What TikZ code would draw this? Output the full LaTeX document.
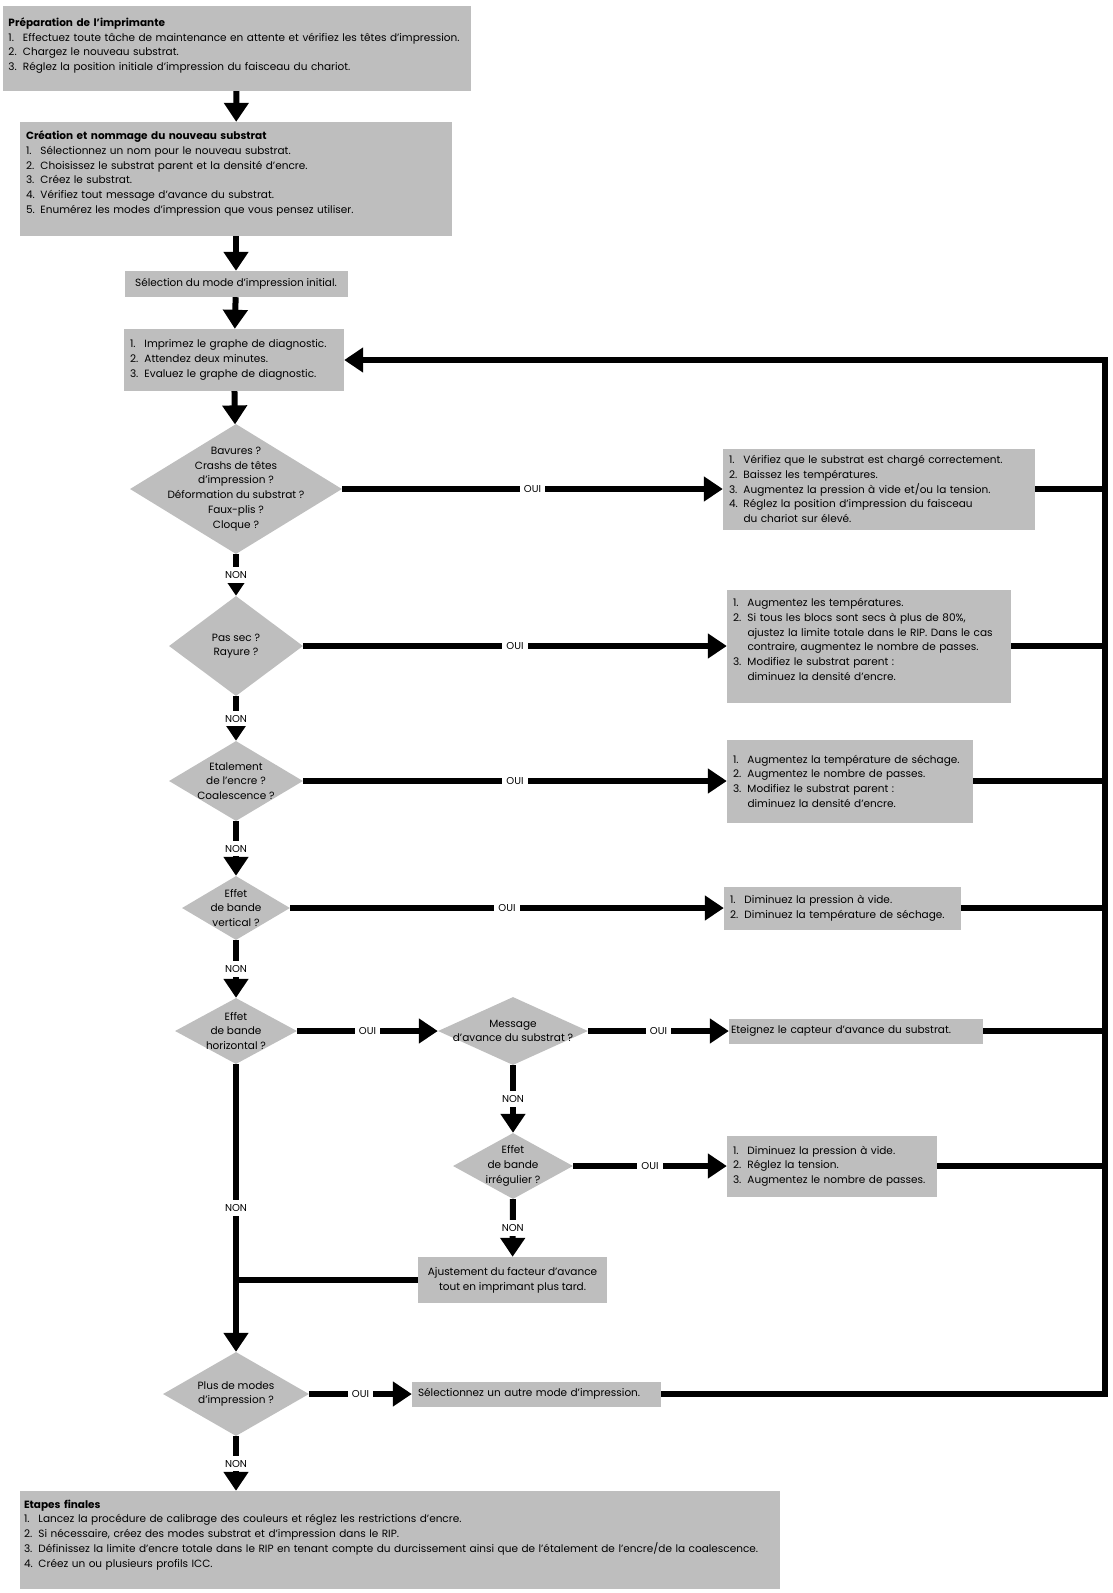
\documentclass[tikz,border=0pt]{standalone}
\usepackage{fontspec}
\setmainfont{Poppins}
\usetikzlibrary{arrows.meta, positioning, shapes.geometric, calc}

\definecolor{boxgray}{RGB}{190,190,190}
\newcommand{\nr}[1]{\makebox[11pt][l]{#1.}}
\newcommand{\ind}{\makebox[11pt]{}\ }

\begin{document}
\begin{tikzpicture}[
    x=1pt, y=-1pt,
    font=\fontsize{10.5}{14.7}\selectfont,
    >={Triangle[length=19pt, width=24pt]},
    stepbox/.style={fill=boxgray, inner xsep=6pt, inner ysep=3pt, align=left},
    decision/.style={diamond, fill=boxgray, inner sep=0pt},
    dtext/.style={align=center},
    flow/.style={line width=6pt, ->},
    link/.style={line width=6pt},
    answer/.style={fill=white, font=\fontsize{10}{11}\selectfont, inner sep=4pt},
  ]
  \useasboundingbox (0,0) rectangle (1112,1593);

  % Preparation
  \node[stepbox, text width=456pt, text depth=53pt, minimum height=85pt] (prep) at (236.5,48.5) {
      \textbf{Préparation de l'imprimante}\\
      \nr1 Effectuez toute tâche de maintenance en attente et vérifiez les têtes d'impression.\\
      \nr2 Chargez le nouveau substrat.\\
      \nr3 Réglez la position initiale d'impression du faisceau du chariot.
  };

  % Creation of the substrate
  \node[stepbox, text width=420pt, text depth=87pt, minimum height=114pt] (create) at (236,179) {
      \textbf{Création et nommage du nouveau substrat}\\
      \nr1 Sélectionnez un nom pour le nouveau substrat.\\
      \nr2 Choisissez le substrat parent et la densité d'encre.\\
      \nr3 Créez le substrat.\\
      \nr4 Vérifiez tout message d'avance du substrat.\\
      \nr5 Enumérez les modes d'impression que vous pensez utiliser.
  };

  \node[stepbox, align=center, minimum width=223pt, minimum height=26pt] (initmode) at (236,284) {Sélection du mode d'impression initial.};

  \node[stepbox, text width=208pt, minimum height=62pt] (diag) at (234,360) {
      \nr1 Imprimez le graphe de diagnostic.\\
      \nr2 Attendez deux minutes.\\
      \nr3 Evaluez le graphe de diagnostic.
  };

  % --- Decisions on the main column ---
  \node[decision, minimum width=212pt, minimum height=130pt,
        label={[dtext]center:{Bavures ?\\Crashs de têtes\\d'impression ?\\Déformation du substrat ?\\Faux-plis ?\\Cloque ?}}] (d1) at (236,489) {};
  \node[decision, minimum width=134pt, minimum height=100pt,
        label={[dtext]center:{Pas sec ?\\Rayure ?}}] (d2) at (236,646) {};
  \node[decision, minimum width=134pt, minimum height=80pt,
        label={[dtext]center:{Etalement\\de l'encre ?\\Coalescence ?}}] (d3) at (236,781) {};
  \node[decision, minimum width=108pt, minimum height=64pt,
        label={[dtext]center:{Effet\\de bande\\vertical ?}}] (d4) at (236,908) {};
  \node[decision, minimum width=122pt, minimum height=66pt,
        label={[dtext]center:{Effet\\de bande\\horizontal ?}}] (d5) at (236,1031) {};
  \node[decision, minimum width=150pt, minimum height=68pt,
        label={[dtext]center:{Message\\d'avance du substrat ?}}] (d6) at (513,1031) {};
  \node[decision, minimum width=120pt, minimum height=66pt,
        label={[dtext]center:{Effet\\de bande\\irrégulier ?}}] (d7) at (513,1166) {};
  \node[decision, minimum width=146pt, minimum height=84pt,
        label={[dtext]center:{Plus de modes\\d'impression ?}}] (d8) at (236,1394) {};

  % --- Remedies on the right ---
  \node[stepbox, text width=300pt, minimum height=81pt] (r1) at (879,489) {
      \nr1 Vérifiez que le substrat est chargé correctement.\\
      \nr2 Baissez les températures.\\
      \nr3 Augmentez la pression à vide et/ou la tension.\\
      \nr4 Réglez la position d'impression du faisceau\\
      \ind du chariot sur élevé.
  };
  \node[stepbox, text width=272pt, text depth=87pt, minimum height=113pt] (r2) at (869,646) {
      \nr1 Augmentez les températures.\\
      \nr2 Si tous les blocs sont secs à plus de 80\%,\\
      \ind ajustez la limite totale dans le RIP. Dans le cas\\
      \ind contraire, augmentez le nombre de passes.\\
      \nr3 Modifiez le substrat parent :\\
      \ind diminuez la densité d'encre.
  };
  \node[stepbox, text width=234pt, minimum height=83pt] (r3) at (850,781) {
      \nr1 Augmentez la température de séchage.\\
      \nr2 Augmentez le nombre de passes.\\
      \nr3 Modifiez le substrat parent :\\
      \ind diminuez la densité d'encre.
  };
  \node[stepbox, text width=225pt, minimum height=43pt] (r4) at (842.5,908) {
      \nr1 Diminuez la pression à vide.\\
      \nr2 Diminuez la température de séchage.
  };
  \node[stepbox, inner xsep=2pt, text width=250pt, minimum height=25pt] (r5) at (856,1031) {Eteignez le capteur d'avance du substrat.};
  \node[stepbox, text width=198pt, minimum height=61pt] (r6) at (832,1166) {
      \nr1 Diminuez la pression à vide.\\
      \nr2 Réglez la tension.\\
      \nr3 Augmentez le nombre de passes.
  };
  \node[stepbox, align=center, minimum width=189pt, minimum height=46pt] (ajust) at (512.5,1280) {
      Ajustement du facteur d'avance\\
      tout en imprimant plus tard.
  };
  \node[stepbox, text width=237pt, minimum height=25pt] (r7) at (536.5,1394) {Sélectionnez un autre mode d'impression.};

  % Final steps
  \node[stepbox, inner xsep=4pt, text width=752pt, text depth=72pt, minimum height=98pt] (final) at (400,1540) {
      \textbf{Etapes finales}\\
      \nr1 Lancez la procédure de calibrage des couleurs et réglez les restrictions d'encre.\\
      \nr2 Si nécessaire, créez des modes substrat et d'impression dans le RIP.\\
      \nr3 Définissez la limite d'encre totale dans le RIP en tenant compte du durcissement ainsi que de l'étalement de l'encre/de la coalescence.\\
      \nr4 Créez un ou plusieurs profils ICC.
  };

  \coordinate (rail) at (1105,360);

  % --- Main flow ---
  \draw[flow] (prep) -- (create);
  \draw[flow] (create) -- (initmode);
  \draw[flow] (initmode) -- (diag);
  \draw[flow] (diag) -- (d1);
  \draw[flow] (d1) -- node[answer]{NON} (d2);
  \draw[flow] (d2) -- node[answer]{NON} (d3);
  \draw[flow] (d3) -- node[answer]{NON} (d4);
  \draw[flow] (d4) -- node[answer]{NON} (d5);
  \draw[flow] (d5) -- node[answer]{NON} (d8);
  \draw[flow] (d6) -- node[answer]{NON} (d7);
  \draw[flow] (d7) -- node[answer]{NON} (ajust);
  \draw[flow] (d8) -- node[answer]{NON} (d8 |- final.north);

  % --- OUI branches ---
  \draw[flow] (d1) -- node[answer]{OUI} (r1);
  \draw[flow] (d2) -- node[answer]{OUI} (r2);
  \draw[flow] (d3) -- node[answer]{OUI} (r3);
  \draw[flow] (d4) -- node[answer]{OUI} (r4);
  \draw[flow] (d5) -- node[answer]{OUI} (d6);
  \draw[flow] (d6) -- node[answer]{OUI} (r5);
  \draw[flow] (d7) -- node[answer]{OUI} (r6);
  \draw[flow] (d8) -- node[answer]{OUI} (r7);

  % --- back to the diagnostic print ---
  \draw[link] (ajust.west) -- (ajust.west -| d5.south);
  \foreach \r in {r1,r2,r3,r4,r5,r6}
    \draw[link] (\r.east) -- (\r.east -| rail);
  \draw[flow] (r7.east) -| (rail) -- (diag.east);

\end{tikzpicture}
\end{document}
